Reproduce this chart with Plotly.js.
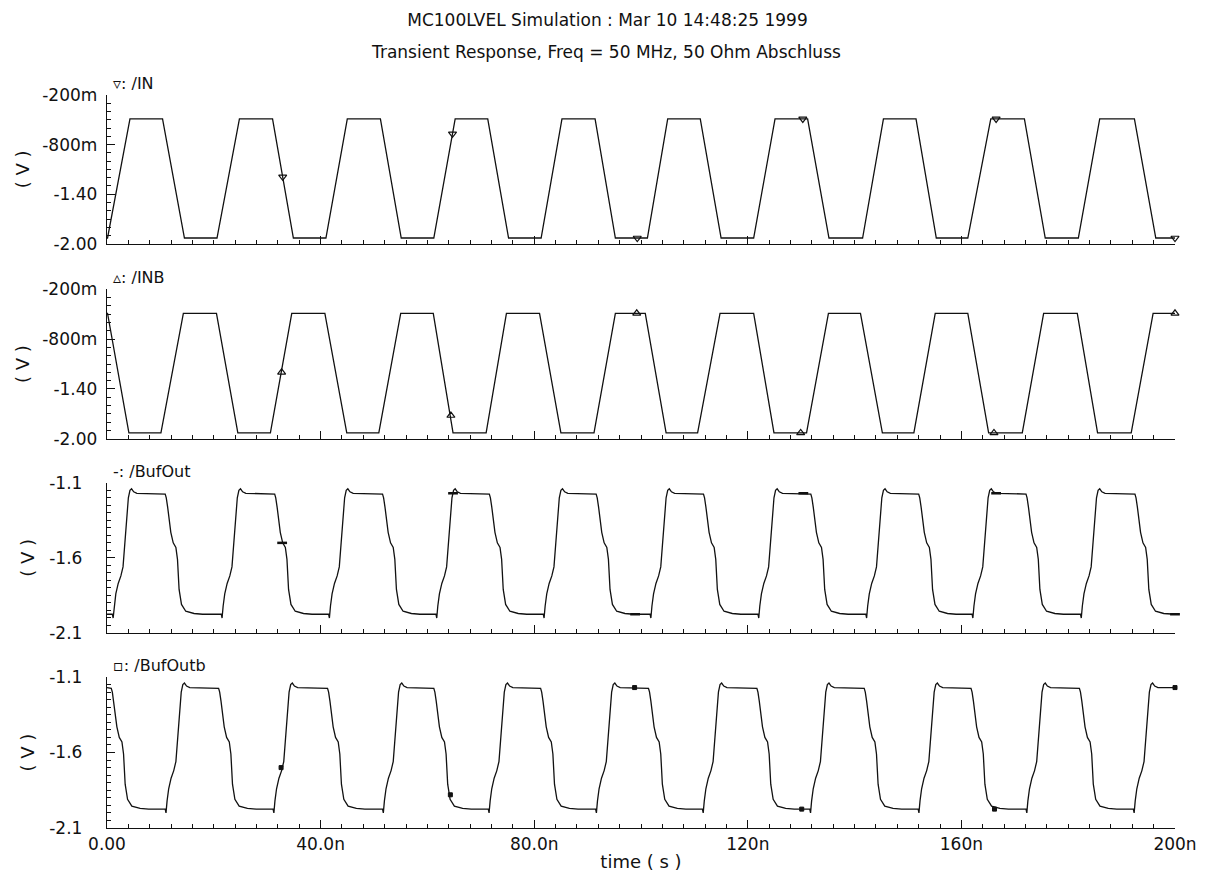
<!DOCTYPE html>
<html>
<head>
<meta charset="utf-8">
<script src="https://cdn.plot.ly/plotly-3.0.1.min.js"></script>
<style>html,body{margin:0;padding:0;background:#fff}</style>
</head>
<body>
<div id="chart" style="width:1215px;height:872px"></div>
<script>
// ---- Data (time in ns, voltage in V) ----
const inTime = [0, 0.1, 4.3, 10.4, 14.5, 20.6, 24.8, 31.0, 34.9, 41.0, 45.0, 51.2, 55.1, 61.2, 65.2, 71.3, 75.2, 81.3, 85.2, 91.4, 95.2, 101.2, 105.0, 111.1, 115.0, 121.1, 125.1, 131.2, 135.2, 141.5, 145.4, 151.5, 155.3, 161.2, 165.5, 171.8, 175.7, 181.9, 185.9, 192.4, 196.4, 200];
const inVolt = [-1.93, -1.93, -0.49, -0.49, -1.93, -1.93, -0.49, -0.49, -1.93, -1.93, -0.49, -0.49, -1.93, -1.93, -0.49, -0.49, -1.93, -1.93, -0.49, -0.49, -1.93, -1.93, -0.49, -0.49, -1.93, -1.93, -0.49, -0.49, -1.93, -1.93, -0.49, -0.49, -1.93, -1.93, -0.49, -0.49, -1.93, -1.93, -0.49, -0.49, -1.93, -1.93];

const inbTime = [0, 0.1, 4.1, 10.1, 14.3, 20.5, 24.5, 30.6, 34.6, 40.8, 44.9, 50.9, 55.0, 61.1, 64.8, 71.0, 74.8, 81.0, 85.0, 91.2, 95.2, 100.8, 104.7, 110.6, 114.8, 121.1, 124.9, 131.0, 135.1, 141.1, 145.2, 151.1, 155.1, 161.2, 165.1, 171.4, 175.4, 181.7, 185.5, 191.8, 195.9, 200];
const inbVolt = [-0.49, -0.49, -1.93, -1.93, -0.49, -0.49, -1.93, -1.93, -0.49, -0.49, -1.93, -1.93, -0.49, -0.49, -1.93, -1.93, -0.49, -0.49, -1.93, -1.93, -0.49, -0.49, -1.93, -1.93, -0.49, -0.49, -1.93, -1.93, -0.49, -0.49, -1.93, -1.93, -0.49, -0.49, -1.93, -1.93, -0.49, -0.49, -1.93, -1.93, -0.49, -0.49];

// Buffer output edge shapes (offset from edge start in ns, voltage)
const bufRiseDt = [0, 0.15, 0.35, 0.65, 1.1, 1.6, 2.0, 2.35, 2.7, 3.0, 3.3, 3.6, 4.0, 4.6];
const bufRiseV  = [-1.975, -2.00, -1.92, -1.84, -1.77, -1.72, -1.66, -1.48, -1.32, -1.20, -1.15, -1.14, -1.16, -1.17];
const bufFallDt = [0, 0.2, 0.45, 1.05, 1.5, 2.0, 2.3, 2.6, 3.05, 3.85, 5.4, 7.0];
const bufFallV  = [-1.175, -1.20, -1.26, -1.43, -1.50, -1.53, -1.61, -1.81, -1.91, -1.955, -1.97, -1.975];

// Edge start times
const bufOutRise  = [1.0, 21.4, 41.5, 61.6, 81.7, 101.7, 121.9, 142.1, 162.0, 182.3];
const bufOutFall  = [10.9, 31.4, 51.6, 71.6, 91.6, 111.7, 131.8, 152.0, 172.1, 192.5];
const bufOutbFall = [0.8, 20.9, 41.3, 61.2, 81.2, 101.4, 121.7, 141.8, 161.8, 182.1];
const bufOutbRise = [10.9, 31.1, 51.6, 71.4, 91.5, 111.5, 131.6, 151.9, 172.1, 192.2];
const bufLowV = -1.975, bufHighV = -1.17;

// Marker positions
const inMkT = [32.9, 64.7, 99.3, 130.3, 166.5, 200];
const inMkV = [-1.19, -0.67, -1.93, -0.49, -0.49, -1.93];
const inbMkT = [32.7, 64.4, 99.2, 129.9, 166.1, 200];
const inbMkV = [-1.20, -1.72, -0.49, -1.93, -1.93, -0.49];
const boMkT = [32.8, 64.8, 98.9, 130.4, 166.5, 200];
const boMkV = [-1.50, -1.17, -1.975, -1.17, -1.17, -1.975];
const bobMkT = [32.6, 64.3, 98.8, 130.1, 166.2, 200];
const bobMkV = [-1.70, -1.88, -1.17, -1.975, -1.975, -1.17];

// Axis ticks
const xTickVals = [0, 40, 80, 120, 160, 200];
const xTickText = ['0.00', '40.0n', '80.0n', '120n', '160n', '200n'];
const yTickVals12 = [-0.2, -0.8, -1.4, -2.0];
const yTickText12 = ['-200m', '-800m', '-1.40', '-2.00'];
const yTickVals34 = [-1.1, -1.6, -2.1];
const yTickText34 = ['-1.1', '-1.6', '-2.1'];

// ---- Build buffer traces from edge times + edge shapes ----
function buildBuf(startV, riseStarts, fallStarts) {
  const ev = [];
  riseStarts.forEach(t => ev.push([t, bufRiseDt, bufRiseV]));
  fallStarts.forEach(t => ev.push([t, bufFallDt, bufFallV]));
  ev.sort((a, b) => a[0] - b[0]);
  const xs = [0], ys = [startV];
  ev.forEach(([t0, dts, vs]) => {
    dts.forEach((d, i) => { xs.push(t0 + d); ys.push(vs[i]); });
  });
  xs.push(200); ys.push(ys[ys.length - 1]);
  return {xs, ys};
}
const bo = buildBuf(bufLowV, bufOutRise, bufOutFall);
const bob = buildBuf(bufHighV, bufOutbRise, bufOutbFall);

const lineStyle = {color: '#111', width: 1.3};
const traces = [
  {x: inTime, y: inVolt, xaxis: 'x', yaxis: 'y', mode: 'lines', line: lineStyle},
  {x: inMkT, y: inMkV, xaxis: 'x', yaxis: 'y', mode: 'markers', cliponaxis: false,
   marker: {symbol: 'triangle-down-open', size: 7, color: '#111', line: {width: 1.2, color: '#111'}}},
  {x: inbTime, y: inbVolt, xaxis: 'x2', yaxis: 'y2', mode: 'lines', line: lineStyle},
  {x: inbMkT, y: inbMkV, xaxis: 'x2', yaxis: 'y2', mode: 'markers', cliponaxis: false,
   marker: {symbol: 'triangle-up-open', size: 7, color: '#111', line: {width: 1.2, color: '#111'}}},
  {x: bo.xs, y: bo.ys, xaxis: 'x3', yaxis: 'y3', mode: 'lines', line: lineStyle},
  {x: boMkT, y: boMkV, xaxis: 'x3', yaxis: 'y3', mode: 'markers', cliponaxis: false,
   marker: {symbol: 'line-ew', size: 7, color: '#111', line: {width: 2.5, color: '#111'}}},
  {x: bob.xs, y: bob.ys, xaxis: 'x4', yaxis: 'y4', mode: 'lines', line: lineStyle},
  {x: bobMkT, y: bobMkV, xaxis: 'x4', yaxis: 'y4', mode: 'markers', cliponaxis: false,
   marker: {symbol: 'square', size: 4, color: '#111', line: {width: 1, color: '#111'}}}
];

const FONT = 'DejaVu Sans, Liberation Sans, sans-serif';
function xAxis(anchor, labels) {
  const a = {
    anchor: anchor, domain: [0, 1], range: [0, 200],
    showline: true, linecolor: '#111', linewidth: 1.2,
    ticks: 'inside', ticklen: 8, tickcolor: '#111', tickwidth: 1,
    tickmode: 'array', tickvals: xTickVals, ticktext: xTickText,
    showticklabels: labels, showgrid: false, zeroline: false,
    minor: {ticks: 'inside', ticklen: 4, dtick: 4, tick0: 0, tickcolor: '#111', showgrid: false},
    tickfont: {family: FONT, size: 17, color: '#111'}, fixedrange: true
  };
  if (anchor !== 'y') a.matches = 'x';
  return a;
}
function yAxis(anchor, domain, range, vals, text, minorStep, labStand, titleStand) {
  return {
    anchor: anchor, domain: domain, range: range,
    showline: true, linecolor: '#111', linewidth: 1.2,
    ticks: 'inside', ticklen: 8, tickcolor: '#111', tickwidth: 1,
    tickmode: 'array', tickvals: vals, ticktext: text,
    ticklabelstandoff: labStand,
    showgrid: false, zeroline: false,
    minor: {ticks: 'inside', ticklen: 4, dtick: minorStep, tick0: 0, tickcolor: '#111', showgrid: false},
    tickfont: {family: FONT, size: 17, color: '#111'},
    title: {text: '( V )', font: {family: FONT, size: 18, color: '#111'}, standoff: titleStand},
    fixedrange: true
  };
}

const dom1 = [0.797, 1.0], dom2 = [0.531, 0.735], dom3 = [0.266, 0.471], dom4 = [0.0, 0.206];
const legendFont = {family: FONT, size: 16, color: '#111'};
const layout = {
  width: 1215, height: 872,
  paper_bgcolor: '#fff', plot_bgcolor: '#fff',
  margin: {l: 107, r: 40, t: 95, b: 44},
  showlegend: false,
  font: {family: FONT, color: '#111'},
  title: {text: 'MC100LVEL Simulation : Mar 10 14:48:25 1999',
          x: 0.5, xanchor: 'center', y: 1 - 20 / 872, yanchor: 'middle',
          font: {family: FONT, size: 17, color: '#111'}},
  xaxis: xAxis('y', false),
  xaxis2: xAxis('y2', false),
  xaxis3: xAxis('y3', false),
  xaxis4: Object.assign(xAxis('y4', true), {title: {text: 'time ( s )', font: {family: FONT, size: 18, color: '#111'}, standoff: 2}}),
  yaxis: yAxis('x', dom1, [-2.0, -0.2], yTickVals12, yTickText12, 0.1, 5, 8),
  yaxis2: yAxis('x2', dom2, [-2.0, -0.2], yTickVals12, yTickText12, 0.1, 5, 8),
  yaxis3: yAxis('x3', dom3, [-2.1, -1.1], yTickVals34, yTickText34, 0.05, 20, 10),
  yaxis4: yAxis('x4', dom4, [-2.1, -1.1], yTickVals34, yTickText34, 0.05, 20, 10),
  annotations: [
    {text: 'Transient Response, Freq = 50 MHz, 50 Ohm Abschluss', xref: 'paper', yref: 'paper',
     x: 0.467, y: 1.0587, xanchor: 'center', yanchor: 'middle', showarrow: false,
     font: {family: FONT, size: 17, color: '#111'}},
    {text: '\u25BF: /IN', xref: 'paper', yref: 'paper', x: 0.004, y: dom1[1], xanchor: 'left', yanchor: 'bottom', showarrow: false, font: legendFont},
    {text: '\u25B5: /INB', xref: 'paper', yref: 'paper', x: 0.004, y: dom2[1], xanchor: 'left', yanchor: 'bottom', showarrow: false, font: legendFont},
    {text: '-: /BufOut', xref: 'paper', yref: 'paper', x: 0.004, y: dom3[1], xanchor: 'left', yanchor: 'bottom', showarrow: false, font: legendFont},
    {text: '\u25AB: /BufOutb', xref: 'paper', yref: 'paper', x: 0.004, y: dom4[1], xanchor: 'left', yanchor: 'bottom', showarrow: false, font: legendFont}
  ]
};

Plotly.newPlot('chart', traces, layout, {displayModeBar: false, staticPlot: true});
</script>
</body>
</html>
